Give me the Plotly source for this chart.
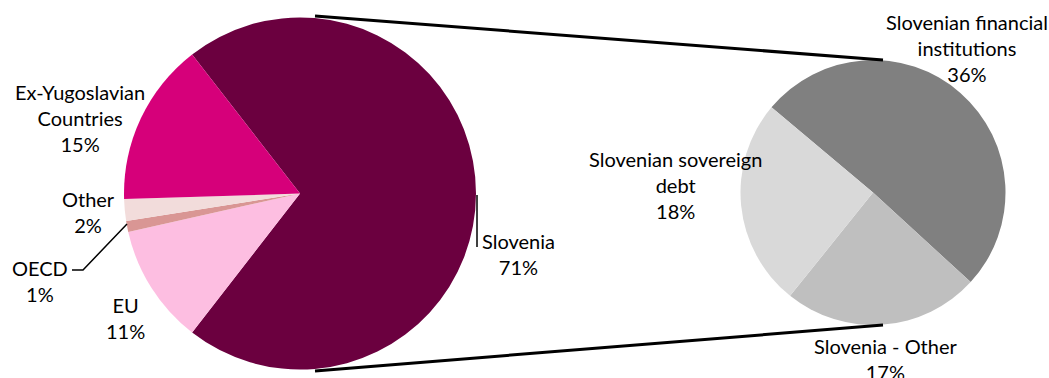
import plotly.graph_objects as go

W, H = 1049, 378

# Main breakdown (share of total, %)
main_labels = ["Slovenia", "EU", "OECD", "Other", "Ex-Yugoslavian Countries"]
main_values = [71, 11, 1, 2, 15]
main_colors = ["#6B003F", "#FDBEE1", "#D99694", "#F2DCDB", "#D6007A"]

# Split of the Slovenia slice (share of total, %)
sub_labels = ["Slovenian financial institutions", "Slovenia - Other", "Slovenian sovereign debt"]
sub_values = [36, 17, 18]
sub_colors = ["#808080", "#BFBFBF", "#D9D9D9"]

FONT = "Lato, 'Open Sans', sans-serif"

# pie geometry in pixels (centre x, centre y, radius)
C1 = (300.0, 193.5, 176.0)
C2 = (873.0, 192.5, 132.5)


def px(x):
    return x / W


def py(y):
    return 1 - y / H


def domain(c):
    cx, cy, r = c
    return dict(x=[px(cx - r), px(cx + r)], y=[py(cy + r), py(cy - r)])


# rotation: the Slovenia slice is centred on the right-hand side
slov_share = main_values[0] / sum(main_values)
rot_main = 90 - slov_share * 360 / 2

fig = go.Figure()
fig.add_trace(go.Pie(
    labels=main_labels, values=main_values, sort=False, direction="clockwise",
    rotation=rot_main, marker=dict(colors=main_colors, line=dict(width=0)),
    textinfo="none", hoverinfo="label+percent", domain=domain(C1), showlegend=False,
))
fig.add_trace(go.Pie(
    labels=sub_labels, values=sub_values, sort=False, direction="clockwise",
    rotation=-50, marker=dict(colors=sub_colors, line=dict(width=0)),
    textinfo="none", hoverinfo="label+value", domain=domain(C2), showlegend=False,
))

# connector lines between the two pies
shapes = [
    dict(type="line", xref="paper", yref="paper",
         x0=px(C1[0] + 15), y0=py(C1[1] - C1[2] - 1.5),
         x1=px(C2[0] + 10), y1=py(C2[1] - C2[2]),
         line=dict(color="black", width=3)),
    dict(type="line", xref="paper", yref="paper",
         x0=px(C1[0] + 15), y0=py(C1[1] + C1[2] + 1.5),
         x1=px(C2[0] + 10), y1=py(C2[1] + C2[2]),
         line=dict(color="black", width=3)),
    # leader lines
    dict(type="line", xref="paper", yref="paper",
         x0=px(477), y0=py(195), x1=px(477), y1=py(247),
         line=dict(color="black", width=1.5)),
    dict(type="path", xref="paper", yref="paper",
         path=f"M {px(127)},{py(224)} L {px(83)},{py(270)} L {px(72)},{py(270)}",
         line=dict(color="black", width=1.5)),
]

# slice labels: (text, centre x, centre y)
label_pos = [
    (f"{main_labels[4].replace(' ', '<br>')}<br>{main_values[4]}%", 80, 118),
    (f"{main_labels[3]}<br>{main_values[3]}%", 88, 212),
    (f"{main_labels[2]}<br>{main_values[2]}%", 40, 281),
    (f"{main_labels[1]}<br>{main_values[1]}%", 125, 318),
    (f"{main_labels[0]}<br>{main_values[0]}%", 518, 254),
    ("Slovenian financial<br>institutions<br>" + f"{sub_values[0]}%", 967, 48),
    ("Slovenian sovereign<br>debt<br>" + f"{sub_values[2]}%", 675, 185),
    (f"{sub_labels[1]}<br>{sub_values[1]}%", 885, 359),
]
annotations = [
    dict(text=t, x=px(x), y=py(y), xref="paper", yref="paper",
         xanchor="center", yanchor="middle", showarrow=False, align="center",
         font=dict(family=FONT, size=20, color="black"))
    for t, x, y in label_pos
]

fig.update_layout(
    width=W, height=H, margin=dict(l=0, r=0, t=0, b=0),
    paper_bgcolor="white", plot_bgcolor="white",
    shapes=shapes, annotations=annotations,
)

fig.write_html("out.html")
